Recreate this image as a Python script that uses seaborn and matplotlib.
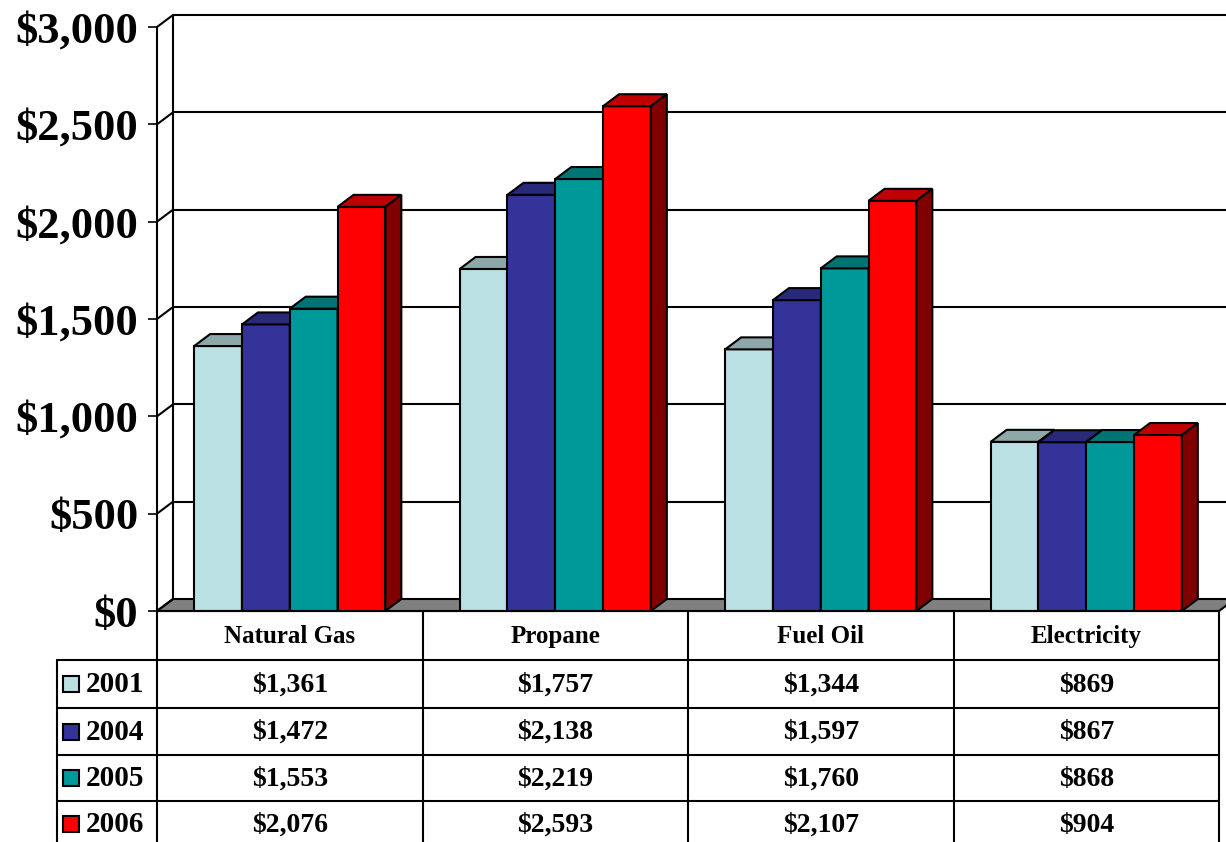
import pandas as pd
import matplotlib.pyplot as plt
import matplotlib.colors as mcolors
import seaborn as sns
from matplotlib.patches import Polygon, Rectangle
from matplotlib.ticker import StrMethodFormatter

# dati
fuels = ['Natural Gas', 'Propane', 'Fuel Oil', 'Electricity']
years = ['2001', '2004', '2005', '2006']
cost_2001 = [1361, 1757, 1344, 869]
cost_2004 = [1472, 2138, 1597, 867]
cost_2005 = [1553, 2219, 1760, 868]
cost_2006 = [2076, 2593, 2107, 904]
y_ticks = [0, 500, 1000, 1500, 2000, 2500, 3000]

front_colors = ['#bbe0e3', '#333399', '#009999', '#ff0000']
top_colors = ['#8ea8aa', '#29297a', '#007474', '#c00000']
side_colors = ['#5f7475', '#1c1c55', '#004f4f', '#800000']

rows = []
for year, vals in zip(years, [cost_2001, cost_2004, cost_2005, cost_2006]):
    for fuel, v in zip(fuels, vals):
        rows.append({'fuel': fuel, 'year': year, 'cost': v})
df = pd.DataFrame(rows)

sns.set_style('white')
plt.rcParams['font.family'] = ['Liberation Serif', 'DejaVu Serif']
plt.rcParams['font.weight'] = 'bold'
plt.rcParams['text.color'] = 'black'
plt.rcParams['ytick.color'] = 'black'
plt.rcParams['axes.edgecolor'] = 'black'

W, H = 1226, 842
fig = plt.figure(figsize=(W / 100, H / 100), dpi=100)

# area frontale del grafico in pixel
px_left, px_right, px_bottom, px_top = 157, 1219, 611, 27
ax = fig.add_axes([px_left / W, (H - px_bottom) / H,
                   (px_right - px_left) / W, (px_bottom - px_top) / H])

lw = 1.5
sns.barplot(data=df, x='fuel', y='cost', hue='year', order=fuels, hue_order=years,
            palette=front_colors, saturation=1, width=0.72, dodge=True,
            edgecolor='black', linewidth=lw, legend=False, ax=ax, errorbar=None)
bars = sorted(list(ax.patches), key=lambda p: p.get_x())

ax.set_xlim(-0.5, 3.5)
ax.set_ylim(0, 3000)

# profondita' 3D in unita' dati
dx = 16 / ((px_right - px_left) / 4)
dy = 12 / ((px_bottom - px_top) / 3000)

# pavimento grigio
floor = Polygon([(-0.5, 0), (3.5, 0), (3.5 + dx, dy), (-0.5 + dx, dy)], closed=True,
                facecolor='#808080', edgecolor='black', linewidth=lw,
                clip_on=False, zorder=1)
ax.add_patch(floor)

# parete di fondo e laterale
for v in y_ticks[1:]:
    ax.plot([-0.5 + dx, 3.6 + dx], [v + dy, v + dy], color='black', lw=lw,
            clip_on=False, zorder=1.5)
for v in y_ticks:
    ax.plot([-0.5, -0.5 + dx], [v, v + dy], color='black', lw=lw,
            clip_on=False, zorder=1.5)
ax.plot([-0.5 + dx, -0.5 + dx], [dy, 3000 + dy], color='black', lw=lw,
        clip_on=False, zorder=1.5)


def hue_index(patch):
    rgb = patch.get_facecolor()[:3]
    dist = [sum(abs(a - c) for a, c in zip(rgb, mcolors.to_rgb(fc))) for fc in front_colors]
    return dist.index(min(dist))


# facce superiori e laterali delle barre, da sinistra a destra
for i, b in enumerate(bars):
    x0, w, h = b.get_x(), b.get_width(), b.get_height()
    j = hue_index(b)
    base = 3 + 3 * i
    b.set_zorder(base)
    top = Polygon([(x0, h), (x0 + w, h), (x0 + w + dx, h + dy), (x0 + dx, h + dy)],
                  closed=True, facecolor=top_colors[j], edgecolor='black',
                  linewidth=lw, zorder=base + 1, clip_on=False)
    side = Polygon([(x0 + w, 0), (x0 + w + dx, dy), (x0 + w + dx, h + dy), (x0 + w, h)],
                   closed=True, facecolor=side_colors[j], edgecolor='black',
                   linewidth=lw, zorder=base + 2, clip_on=False)
    ax.add_patch(top)
    ax.add_patch(side)

for s in ['top', 'right', 'bottom']:
    ax.spines[s].set_visible(False)
ax.spines['left'].set_linewidth(lw)
ax.spines['left'].set_zorder(2)
ax.set_yticks(y_ticks)
ax.yaxis.set_major_formatter(StrMethodFormatter('${x:,.0f}'))
ax.tick_params(axis='y', left=True, length=6.5, width=1.2, pad=7, labelsize=32,
               colors='black')
ax.tick_params(axis='x', bottom=False, labelbottom=False)
ax.set_xlabel('')
ax.set_ylabel('')
for t in ax.get_yticklabels():
    t.set_fontweight('bold')

# tabella dati sotto il grafico
tab = fig.add_axes([0, 0, 1, 1])
tab.set_xlim(0, W)
tab.set_ylim(H, 0)
tab.axis('off')
tab.patch.set_alpha(0)

fig.canvas.draw()
col_edges = [ax.transData.transform((x, 0))[0] for x in [-0.5, 0.5, 1.5, 2.5, 3.5]]
col_mid = [(a + b) / 2 for a, b in zip(col_edges[:-1], col_edges[1:])]
row_edges = [611, 660, 708, 755, 801, 848]
leg_left = 57

tab.plot([col_edges[0], col_edges[-1]], [row_edges[0]] * 2, color='black', lw=lw)
for r in row_edges[1:-1]:
    tab.plot([leg_left, col_edges[-1]], [r, r], color='black', lw=lw)
for c in col_edges:
    tab.plot([c, c], [row_edges[0], H + 5], color='black', lw=lw)
tab.plot([leg_left, leg_left], [row_edges[1], H + 5], color='black', lw=lw)

for name, cx in zip(fuels, col_mid):
    tab.text(cx, (row_edges[0] + row_edges[1]) / 2 + 1, name, ha='center', va='center',
             fontsize=18, fontweight='bold', color='black')

all_vals = [cost_2001, cost_2004, cost_2005, cost_2006]
for r, (year, vals) in enumerate(zip(years, all_vals)):
    cy = (row_edges[r + 1] + row_edges[r + 2]) / 2
    if r == 3:
        cy = 824
    tab.add_patch(Rectangle((63, cy - 8), 16, 16, facecolor=front_colors[r],
                            edgecolor='black', lw=lw))
    tab.text(86, cy + 1, year, ha='left', va='center', fontsize=21, fontweight='bold',
             color='black')
    for v, cx in zip(vals, col_mid):
        tab.text(cx, cy + 1, f'${v:,}', ha='center', va='center',
                 fontsize=20, fontweight='bold', color='black')

plt.savefig('out.png', dpi=100)
plt.close()
